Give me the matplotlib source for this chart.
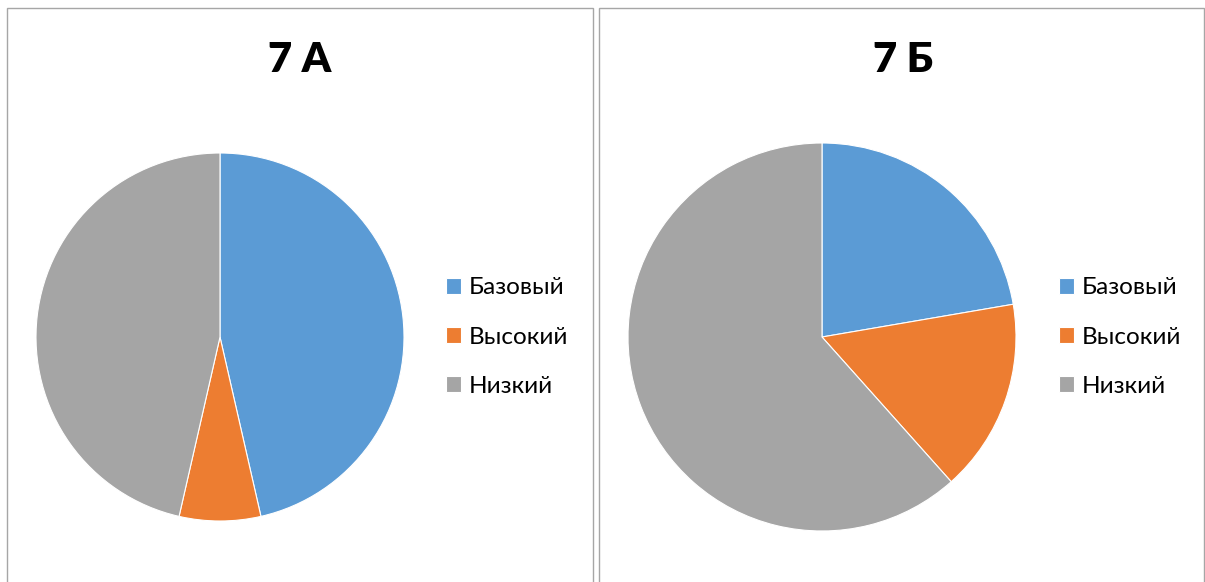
import matplotlib
matplotlib.use("Agg")
import matplotlib.pyplot as plt
from matplotlib.patches import Rectangle

categories = ["Базовый", "Высокий", "Низкий"]
values_7a = [13, 2, 13]
values_7b = [22.3, 16.1, 61.6]
titles = ["7 А", "7 Б"]
colors = ["#5B9BD5", "#ED7D31", "#A5A5A5"]

W, H = 1205, 582
fig = plt.figure(figsize=(W / 100, H / 100), dpi=100)
plt.rcParams["font.family"] = ["Lato", "DejaVu Sans"]

def px_rect(x0, y0, x1, y1):
    return [x0 / W, 1 - y1 / H, (x1 - x0) / W, (y1 - y0) / H]

# panel borders
for (x0, x1) in [(7, 593), (599, 1204)]:
    fig.patches.append(Rectangle((x0 / W, -0.01), (x1 - x0) / W, 1 - 7.5 / H + 0.01,
                                 transform=fig.transFigure, fill=False,
                                 edgecolor="#A6A6A6", linewidth=1.0))

panels = [
    dict(vals=values_7a, cx=220, cy=337, r=184, title=titles[0], tx=300, leg=(446, 337)),
    dict(vals=values_7b, cx=822, cy=337, r=194, title=titles[1], tx=903, leg=(1059, 337)),
]

for p in panels:
    ax = fig.add_axes(px_rect(p["cx"] - p["r"], p["cy"] - p["r"], p["cx"] + p["r"], p["cy"] + p["r"]))
    wedges, _ = ax.pie(p["vals"], colors=colors, startangle=90, counterclock=False,
                       radius=1.0, wedgeprops=dict(edgecolor="white", linewidth=0.8))
    ax.set_xlim(-1, 1)
    ax.set_ylim(-1, 1)
    ax.set_axis_off()
    fig.text(p["tx"] / W, 1 - 60 / H, p["title"], ha="center", va="center",
             fontsize=30, fontweight="heavy", color="black")
    fig.legend(wedges, categories, loc="center left",
               bbox_to_anchor=(p["leg"][0] / W, 1 - p["leg"][1] / H),
               frameon=False, fontsize=17.5, handlelength=0.62, handleheight=0.62,
               handletextpad=0.32, labelspacing=1.16, borderpad=0, borderaxespad=0)

fig.savefig("out.png", dpi=100, facecolor="white")
